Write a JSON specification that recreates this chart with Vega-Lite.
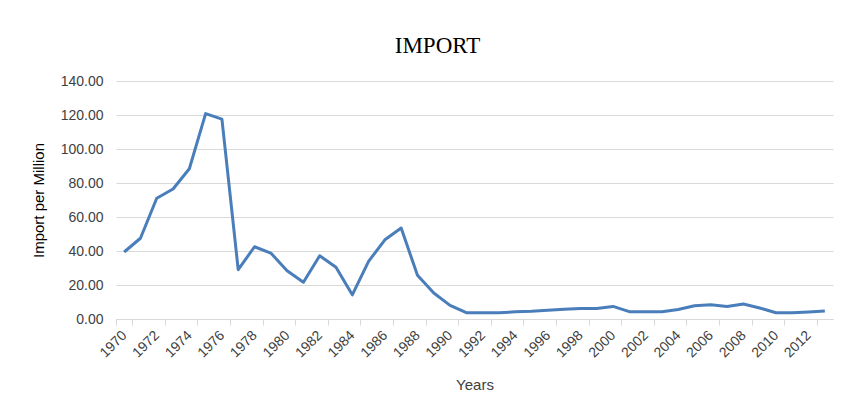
{
  "$schema": "https://vega.github.io/schema/vega-lite/v6.json",
  "autosize": "none",
  "width": 717,
  "height": 238,
  "padding": {"left": 116, "top": 81, "right": 9, "bottom": 94},
  "background": "white",
  "title": {
    "text": "IMPORT",
    "font": "Liberation Serif",
    "fontSize": 23,
    "fontWeight": "normal",
    "color": "#000000",
    "anchor": "middle",
    "dx": -37,
    "offset": 16
  },
  "data": {
    "values": [
      {"year": 1970, "import": 39.4},
      {"year": 1971, "import": 47.5},
      {"year": 1972, "import": 71.0},
      {"year": 1973, "import": 76.5},
      {"year": 1974, "import": 88.4},
      {"year": 1975, "import": 120.8},
      {"year": 1976, "import": 117.6},
      {"year": 1977, "import": 29.0},
      {"year": 1978, "import": 42.5},
      {"year": 1979, "import": 38.8},
      {"year": 1980, "import": 28.4},
      {"year": 1981, "import": 21.6},
      {"year": 1982, "import": 37.2},
      {"year": 1983, "import": 30.4},
      {"year": 1984, "import": 14.2},
      {"year": 1985, "import": 33.9},
      {"year": 1986, "import": 46.6},
      {"year": 1987, "import": 53.5},
      {"year": 1988, "import": 25.7},
      {"year": 1989, "import": 15.3},
      {"year": 1990, "import": 8.0},
      {"year": 1991, "import": 3.7},
      {"year": 1992, "import": 3.7},
      {"year": 1993, "import": 3.7},
      {"year": 1994, "import": 4.2},
      {"year": 1995, "import": 4.5},
      {"year": 1996, "import": 5.1},
      {"year": 1997, "import": 5.7},
      {"year": 1998, "import": 6.2},
      {"year": 1999, "import": 6.2},
      {"year": 2000, "import": 7.4},
      {"year": 2001, "import": 4.3},
      {"year": 2002, "import": 4.3},
      {"year": 2003, "import": 4.3},
      {"year": 2004, "import": 5.6},
      {"year": 2005, "import": 7.8},
      {"year": 2006, "import": 8.4},
      {"year": 2007, "import": 7.4},
      {"year": 2008, "import": 8.8},
      {"year": 2009, "import": 6.5},
      {"year": 2010, "import": 3.7},
      {"year": 2011, "import": 3.7},
      {"year": 2012, "import": 4.1},
      {"year": 2013, "import": 4.7}
    ]
  },
  "mark": {"type": "line", "color": "#4a7ebb", "strokeWidth": 3, "strokeJoin": "round"},
  "encoding": {
    "x": {
      "field": "year",
      "type": "ordinal",
      "scale": {"type": "band", "paddingInner": 0, "paddingOuter": 0},
      "axis": {
        "title": "Years",
        "values": [1970,1972,1974,1976,1978,1980,1982,1984,1986,1988,1990,1992,1994,1996,1998,2000,2002,2004,2006,2008,2010,2012],
        "labelAngle": -45,
        "labelAlign": "right",
        "labelBaseline": "middle",
        "labelFont": "Liberation Sans",
        "labelFontSize": 14,
        "labelColor": "#404040",
        "labelPadding": 8,
        "tickBand": "extent",
        "tickSize": 6,
        "tickColor": "#d9d9d9",
        "domainColor": "#d9d9d9",
        "grid": false,
        "titleFont": "Liberation Sans",
        "titleFontSize": 15,
        "titleFontWeight": "normal",
        "titleColor": "#404040",
        "titlePadding": 18
      }
    },
    "y": {
      "field": "import",
      "type": "quantitative",
      "scale": {"domain": [0, 140]},
      "axis": {
        "title": "Import per Million",
        "values": [0, 20, 40, 60, 80, 100, 120, 140],
        "format": ".2f",
        "labelFont": "Liberation Sans",
        "labelFontSize": 14,
        "labelColor": "#404040",
        "labelPadding": 13,
        "ticks": false,
        "domain": false,
        "grid": true,
        "gridColor": "#d9d9d9",
        "titleFont": "Liberation Sans",
        "titleFontSize": 15,
        "titleFontWeight": "normal",
        "titleColor": "#000000",
        "titlePadding": 14
      }
    }
  },
  "config": {"view": {"stroke": null}}
}
